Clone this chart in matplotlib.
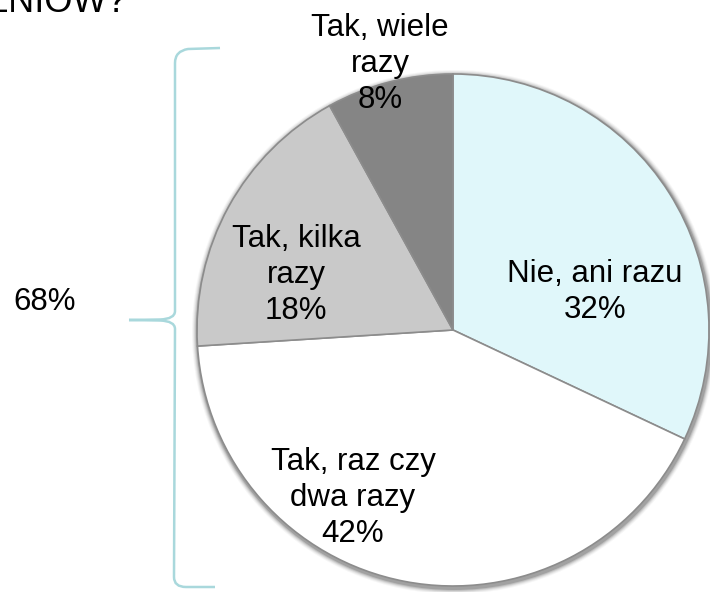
import matplotlib.pyplot as plt
from matplotlib.path import Path
from matplotlib.patches import PathPatch, Circle

plt.rcParams['font.family'] = ['Liberation Sans', 'DejaVu Sans']

# survey answers, clockwise from 12 o'clock
categories = ["Nie, ani razu", "Tak, raz czy dwa razy", "Tak, kilka razy", "Tak, wiele razy"]
shares = [32, 42, 18, 8]
label_lines = ["Nie, ani razu", "Tak, raz czy\ndwa razy", "Tak, kilka\nrazy", "Tak, wiele\nrazy"]
slice_colors = ["#e0f7fa", "#ffffff", "#c9c9c9", "#858585"]

W, H = 710, 592


def py(y):
    # pixel row (from top) -> data y
    return H - y


fig = plt.figure(figsize=(W / 100, H / 100), dpi=100)
ax = fig.add_axes([0, 0, 1, 1])

cx, cy, r = 453, py(330), 256

# soft shadow around the pie
for k, a in zip([6, 5, 4, 3, 2], [0.05, 0.08, 0.12, 0.18, 0.28]):
    ax.add_patch(Circle((cx + 1, cy - 2), r + k, color="#555555", alpha=a, lw=0, zorder=0))

wedges, _ = ax.pie(
    shares,
    colors=slice_colors,
    startangle=90,
    counterclock=False,
    center=(cx, cy),
    radius=r,
    wedgeprops=dict(edgecolor="#8c8c8c", linewidth=1.2),
)
for w in wedges:
    w.set_zorder(1)

# label placement (pixel coords from top-left)
label_pos = [(595, 292), (353, 498), (296, 275), (380, 64)]
for txt, val, (x, y) in zip(label_lines, shares, label_pos):
    ax.text(x, py(y), f"{txt}\n{val}%", ha="center", va="center",
            fontsize=22.5, linespacing=1.27, zorder=3)

# curly brace grouping the "Tak" answers
brace_col = "#a9d8dc"
verts = [
    (220, 48), (188, 49), (175, 51), (175, 63),
    (175, 311), (175, 319), (160, 319.5), (129, 320),
    (160, 320.5), (175, 321), (175, 329),
    (174, 577), (174, 587), (186, 587), (215, 587),
]
codes = [
    Path.MOVETO, Path.LINETO, Path.CURVE3, Path.CURVE3,
    Path.LINETO, Path.CURVE3, Path.CURVE3, Path.LINETO,
    Path.LINETO, Path.CURVE3, Path.CURVE3,
    Path.LINETO, Path.CURVE3, Path.CURVE3, Path.LINETO,
]
verts = [(x, py(y)) for x, y in verts]
ax.add_patch(PathPatch(Path(verts, codes), fill=False, edgecolor=brace_col, lw=1.8, zorder=2))

tak_total = sum(shares[1:])
ax.text(45, py(302), f"{tak_total}%", ha="center", va="center", fontsize=22.5)

# title cut off by the top edge of the slide
ax.text(127, py(12), "UCZNIÓW?", ha="right", va="baseline", fontsize=26)

ax.set_xlim(0, W)
ax.set_ylim(0, H)
ax.set_aspect("equal")
ax.axis("off")

fig.savefig("out.png", dpi=100)
